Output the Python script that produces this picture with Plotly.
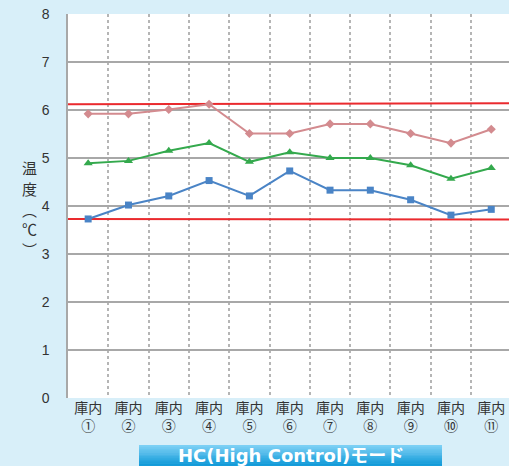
import plotly.graph_objects as go

categories = ["庫内<br>①", "庫内<br>②", "庫内<br>③", "庫内<br>④", "庫内<br>⑤", "庫内<br>⑥",
              "庫内<br>⑦", "庫内<br>⑧", "庫内<br>⑨", "庫内<br>⑩", "庫内<br>⑪"]
pink_vals = [5.92, 5.92, 6.01, 6.12, 5.51, 5.51, 5.71, 5.71, 5.51, 5.31, 5.60]
green_vals = [4.89, 4.94, 5.15, 5.31, 4.92, 5.12, 5.00, 5.00, 4.85, 4.57, 4.79]
blue_vals = [3.73, 4.02, 4.21, 4.53, 4.21, 4.73, 4.33, 4.33, 4.13, 3.81, 3.93]
upper_limit = [6.12, 6.14]
lower_limit = [3.73, 3.72]
y_ticks = [0, 1, 2, 3, 4, 5, 6, 7, 8]
banner_text = "<b>HC(High Control)モード</b>"
y_title_chars = ["温", "度", "︵", "℃", "︶"]

xs = list(range(len(categories)))
x_lo, x_hi = -0.5, 10.44

L, T, B = 68, 14, 398
PH = B - T
PW = 509 - L


def px_x(p):
    return (p - L) / PW


def px_y(p):
    return (B - p) / PH


fig = go.Figure()

for lim in (upper_limit, lower_limit):
    fig.add_trace(go.Scatter(x=[x_lo, x_hi], y=lim, mode="lines",
                             line=dict(color="#ea2a2e", width=2), hoverinfo="skip",
                             showlegend=False, cliponaxis=False))

fig.add_trace(go.Scatter(x=xs, y=pink_vals, mode="lines+markers",
                         line=dict(color="#d38b8f", width=2),
                         marker=dict(symbol="diamond", size=7, color="#d38b8f"),
                         showlegend=False))
fig.add_trace(go.Scatter(x=xs, y=green_vals, mode="lines+markers",
                         line=dict(color="#34a94d", width=2),
                         marker=dict(symbol="triangle-up", size=8, color="#34a94d"),
                         showlegend=False))
fig.add_trace(go.Scatter(x=xs, y=blue_vals, mode="lines+markers",
                         line=dict(color="#4a84c6", width=2),
                         marker=dict(symbol="square", size=7, color="#4a84c6"),
                         showlegend=False))

# gradient banner (stacked bands)
top_c = (125, 208, 245)
bot_c = (8, 150, 215)
n = 12
band_top, band_bot = 445, 467
h = (band_bot - band_top) / n
for i in range(n):
    t = i / (n - 1)
    c = tuple(int(top_c[k] + (bot_c[k] - top_c[k]) * t) for k in range(3))
    fig.add_shape(type="rect", xref="paper", yref="paper",
                  x0=px_x(139), x1=px_x(442),
                  y0=px_y(band_top + h * (i + 1) + 0.5), y1=px_y(band_top + h * i),
                  line=dict(width=0), fillcolor="rgb(%d,%d,%d)" % c, layer="above")

fig.add_annotation(text=banner_text, xref="paper", yref="paper",
                   x=px_x((139 + 442) / 2), y=px_y(455),
                   showarrow=False,
                   font=dict(size=18, color="white", family="DejaVu Sans, Noto Sans CJK JP"),
                   yanchor="middle", xanchor="center")

y_title_pos = [167, 188, 209, 229, 249]
for ch, yp in zip(y_title_chars, y_title_pos):
    fig.add_annotation(text=ch, xref="paper", yref="paper",
                       x=px_x(29), y=px_y(yp),
                       showarrow=False, font=dict(size=15, color="#333333", family="Noto Sans CJK JP"),
                       xanchor="center", yanchor="middle", borderpad=0)

fig.update_layout(
    width=509, height=466,
    margin=dict(l=L, r=0, t=T, b=466 - B),
    paper_bgcolor="#d8eff9",
    plot_bgcolor="white",
    font=dict(family="Noto Sans CJK JP", color="#333333", size=13),
    xaxis=dict(range=[x_lo, x_hi], tickvals=xs, ticktext=categories,
               showgrid=False, zeroline=False, showline=False, ticks="",
               tickfont=dict(size=14, color="#333333"),
               minor=dict(tickvals=[i + 0.5 for i in range(10)], showgrid=True,
                          gridcolor="#b5b5b5", griddash="dot", gridwidth=1.5)),
    yaxis=dict(range=[0, 8], tickvals=y_ticks, showgrid=True, gridcolor="#a8a8a8",
               gridwidth=1.5, zeroline=False, showline=True, linecolor="#a8a8a8",
               linewidth=1.5, ticks="", ticklabelstandoff=14,
               tickfont=dict(size=14, color="#333333", family="Liberation Sans")),
)

fig.write_html("out.html", config={"displayModeBar": False},
               post_script="document.body.style.margin='0';document.body.style.overflow='hidden';")
